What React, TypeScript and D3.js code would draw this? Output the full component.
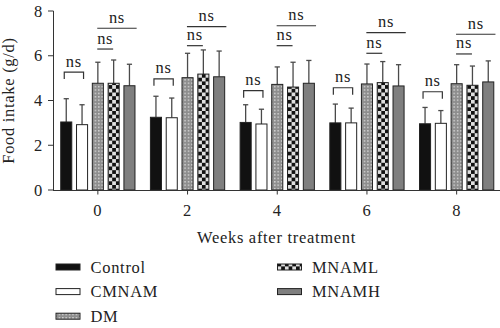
import React from "react";
import * as d3 from "d3";

const weeks = ["0", "2", "4", "6", "8"];
const series = ["Control", "CMNAM", "DM", "MNAML", "MNAMH"];
// mean values per series (rows) for each week (columns)
const means = [
  [3.04, 3.25, 3.02, 3.0, 2.96],
  [2.92, 3.23, 2.95, 3.0, 2.98],
  [4.77, 5.02, 4.72, 4.74, 4.75],
  [4.77, 5.18, 4.6, 4.8, 4.68],
  [4.66, 5.06, 4.77, 4.65, 4.83],
];
// upper ends of error bars
const errTops = [
  [4.08, 4.19, 3.81, 3.84, 3.69],
  [3.81, 4.11, 3.61, 3.66, 3.55],
  [5.71, 6.11, 5.5, 5.63, 5.6],
  [5.81, 6.26, 5.71, 5.74, 5.54],
  [5.62, 6.21, 5.79, 5.6, 5.77],
];
// significance annotation levels (data units)
const bracketLevel = [5.27, 4.97, 4.44, 4.57, 4.39];
const pairLevel = [6.3, 6.45, 6.45, 6.11, 6.08];
const topLevel = [7.23, 7.3, 7.34, 7.03, 6.96];
const yTicks = [0, 2, 4, 6, 8];
const sigLabel = "ns";

const W = 500;
const H = 328;
const FONT = "'Liberation Serif', 'DejaVu Serif', serif";
const FS = 16.5;
const LS = 0.7;

export default function App() {
  const x0 = d3.scaleBand<string>().domain(weeks).range([53, 501.5]).padding(0);
  const bw = x0.bandwidth();
  const x1 = d3
    .scaleBand<string>()
    .domain(series)
    .range([bw / 2 - 2.5 * 15.8, bw / 2 + 2.5 * 15.8])
    .paddingInner(0.3)
    .paddingOuter(0.15);
  const y = d3.scaleLinear().domain([0, 8]).range([190, 11]);
  const barW = x1.bandwidth();

  const fills = [
    "#111111",
    "#ffffff",
    "url(#dots)",
    "url(#checker)",
    "#7f7f7f",
  ];

  const legend = [
    { name: "Control", col: 0, row: 0, s: 0 },
    { name: "CMNAM", col: 0, row: 1, s: 1 },
    { name: "DM", col: 0, row: 2, s: 2 },
    { name: "MNAML", col: 1, row: 0, s: 3 },
    { name: "MNAMH", col: 1, row: 1, s: 4 },
  ];

  return (
    <svg
      width={W}
      height={H}
      style={{ position: "absolute", left: 0, top: 0, background: "#fff" }}
      fontFamily={FONT}
    >
      <defs>
        <pattern id="dots" width="3.4" height="3.4" patternUnits="userSpaceOnUse">
          <rect width="3.4" height="3.4" fill="#8e8e8e" />
          <rect x="0.9" y="0.9" width="1.4" height="1.4" fill="#d8d8d8" />
        </pattern>
        <pattern id="checker" width="7.4" height="7.4" patternUnits="userSpaceOnUse">
          <rect width="7.4" height="7.4" fill="#e0e0e0" />
          <rect width="3.7" height="3.7" fill="#111" />
          <rect x="3.7" y="3.7" width="3.7" height="3.7" fill="#111" />
        </pattern>
      </defs>

      {/* bars */}
      {weeks.map((w, gi) => (
        <g key={w} transform={`translate(${x0(w)},0)`}>
          {series.map((s, si) => {
            const bx = x1(s)!;
            const cx = bx + barW / 2;
            const top = y(means[si][gi]);
            const et = y(errTops[si][gi]);
            return (
              <g key={s}>
                <line x1={cx} x2={cx} y1={top} y2={et} stroke="#4a4a4a" strokeWidth={1.3} />
                <line x1={cx - 2.6} x2={cx + 2.6} y1={et} y2={et} stroke="#4a4a4a" strokeWidth={1.3} />
                <rect
                  x={bx}
                  y={top}
                  width={barW}
                  height={y(0) - top}
                  fill={fills[si]}
                  stroke="#222"
                  strokeWidth={1}
                />
              </g>
            );
          })}
          {/* annotations */}
          {(() => {
            const c0 = x1(series[0])! + barW / 2;
            const c1 = x1(series[1])! + barW / 2;
            const c2 = x1(series[2])! + barW / 2;
            const c3 = x1(series[3])! + barW / 2;
            const c4 = x1(series[4])! + barW / 2;
            const bl = y(bracketLevel[gi]);
            const pl = y(pairLevel[gi]);
            const tl = y(topLevel[gi]);
            const bxl = c0 - 2;
            const bxr = c1 + 1.5;
            const pxl = c2 - 0.6;
            const pxr = c3 - 0.5;
            const txl = c2 - 0.6;
            const txr = c4 + 7.2;
            return (
              <g stroke="#333" strokeWidth={1.2} fill="none">
                <path d={`M${bxl},${bl + 7}V${bl}H${bxr}V${bl + 7}`} />
                <line x1={pxl} x2={pxr} y1={pl} y2={pl} />
                <line x1={txl} x2={txr} y1={tl} y2={tl} />
                <g stroke="none" fill="#222" fontSize={FS} letterSpacing={LS} textAnchor="middle">
                  <text x={(bxl + bxr) / 2} y={bl - 5.5}>{sigLabel}</text>
                  <text x={(pxl + pxr) / 2} y={pl - 5.5}>{sigLabel}</text>
                  <text x={(txl + txr) / 2} y={tl - 5.5}>{sigLabel}</text>
                </g>
              </g>
            );
          })()}
        </g>
      ))}

      {/* axes */}
      <g stroke="#333" strokeWidth={1}>
        <line x1={53.5} x2={53.5} y1={y(8)} y2={y(0)} />
        {yTicks.map((t) => (
          <line key={t} x1={48} x2={53.5} y1={y(t)} y2={y(t)} />
        ))}
        <line x1={53} x2={500} y1={y(0) + 0.5} y2={y(0) + 0.5} />
        {weeks.map((w) => (
          <line key={w} x1={x0(w)! + bw / 2} x2={x0(w)! + bw / 2} y1={y(0)} y2={y(0) + 4.5} />
        ))}
      </g>
      <g fill="#222" fontSize={FS} letterSpacing={LS}>
        {yTicks.map((t) => (
          <text key={t} x={43} y={y(t) + 5.5} textAnchor="end">
            {t}
          </text>
        ))}
        {weeks.map((w) => (
          <text key={w} x={x0(w)! + bw / 2} y={215.5} textAnchor="middle">
            {w}
          </text>
        ))}
        <text x={276.5} y={243} textAnchor="middle">
          Weeks after treatment
        </text>
        <text transform={`translate(13.5,${(y(8) + y(0)) / 2}) rotate(-90)`} textAnchor="middle">
          Food intake (g/d)
        </text>
      </g>

      {/* legend */}
      {legend.map((l) => {
        const lx = l.col === 0 ? 56 : 277.5;
        const ly = 264 + l.row * 24.6;
        return (
          <g key={l.name}>
            <rect x={lx} y={ly} width={24} height={6} fill={fills[l.s]} stroke="#222" strokeWidth={1} />
            <text x={lx + 34.5} y={ly + 8.5} fontSize={FS} letterSpacing={LS} fill="#222">
              {l.name}
            </text>
          </g>
        );
      })}
    </svg>
  );
}
